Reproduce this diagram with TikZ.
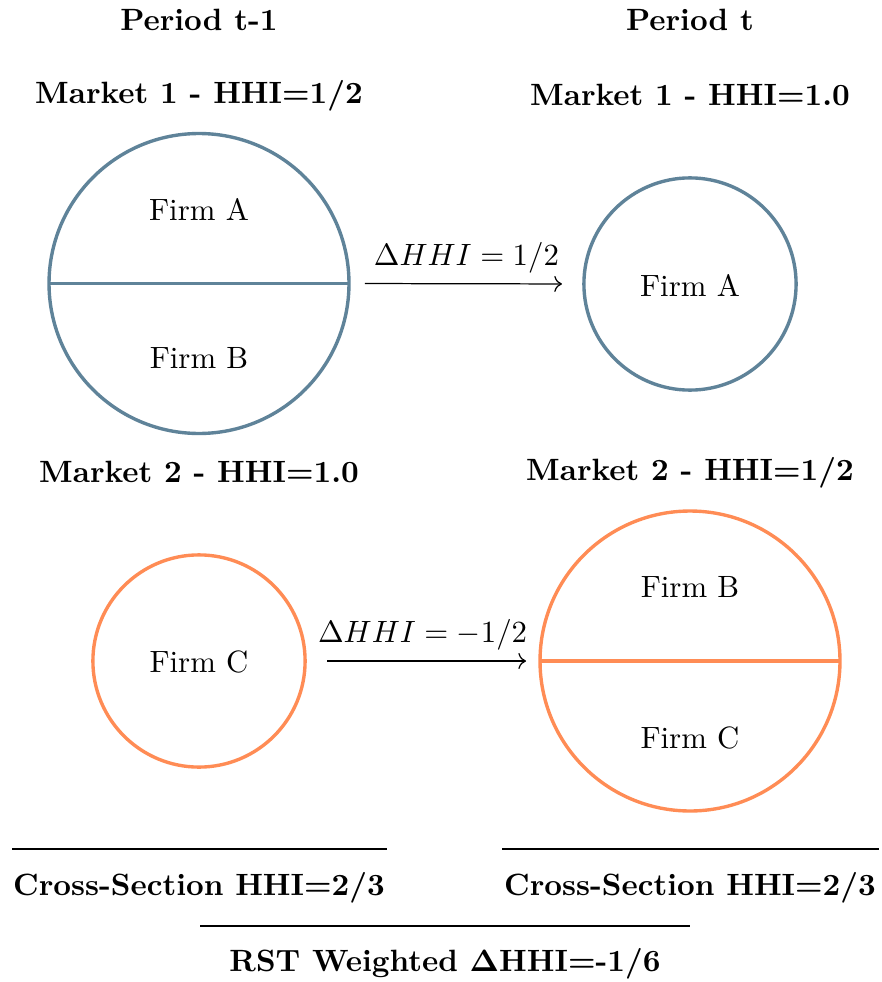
\documentclass[tikz,border=0pt]{standalone}
\usetikzlibrary{arrows.meta}
\definecolor{mblue}{HTML}{5F8399}
\definecolor{morange}{HTML}{FF8C55}
\begin{document}
\begin{tikzpicture}[x=0.3247pt,y=-0.3247pt,
  mkt/.style={circle, line width=1.1pt, inner sep=0pt, outer sep=0pt},
  bigmkt/.style={mkt, minimum size=97.4pt},
  smallmkt/.style={mkt, minimum size=68.9pt},
  ttl/.style={anchor=base, font=\bfseries, inner sep=0pt},
  firm/.style={inner sep=0pt},
  sep/.style={line width=0.5pt},
  chg/.style={->, line width=0.4pt},
  dlabel/.style={above, inner sep=3.33pt}]
\useasboundingbox (0,0) rectangle (881,982);

% circles
\node[bigmkt, draw=mblue] (m1a) at (199,283.5) {};
\node[smallmkt, draw=mblue] (m1b) at (690,284) {};
\node[smallmkt, draw=morange] (m2a) at (199,661) {};
\node[bigmkt, draw=morange] (m2b) at (690,661) {};
\draw[mblue, line width=1.1pt] (m1a.west) -- (m1a.east);
\draw[morange, line width=1.1pt] (m2b.west) -- (m2b.east);

% titles
\node[ttl] (pt1) at (199,31) {Period t-1};
\node[ttl] (pt) at (690,31) {Period t};
\node[ttl] (mk1a) at (199,104) {Market 1 - HHI=1/2};
\node[ttl] (mk1b) at (690,106) {Market 1 - HHI=1.0};
\node[ttl] (mk2a) at (199,482) {Market 2 - HHI=1.0};
\node[ttl] (mk2b) at (690,480) {Market 2 - HHI=1/2};

% firm labels
\node[firm] (fa1) at (199,209) {Firm A};
\node[firm] (fb1) at (199,358) {Firm B};
\node[firm] (fa2) at (690,285) {Firm A};
\node[firm] (fc1) at (199,662) {Firm C};
\node[firm] (fb2) at (690,587) {Firm B};
\node[firm] (fc2) at (690,738) {Firm C};

% change arrows
\draw[chg, shorten <=16*0.3247pt, shorten >=22*0.3247pt] (m1a.east) -- node[dlabel] {$\Delta HHI = 1/2$} (m1b.west);
\draw[chg, shorten <=22*0.3247pt, shorten >=14*0.3247pt] (m2a.east) -- node[dlabel] {$\Delta HHI = -1/2$} (m2b.west);

% summary rules and labels
\draw[sep] (12,849) -- (387,849);
\draw[sep] (502,849) -- (879,849);
\node[ttl] (csa) at (199,895) {Cross-Section HHI=2/3};
\node[ttl] (csb) at (690,895) {Cross-Section HHI=2/3};
\draw[sep] (200,926) -- (690,926);
\node[ttl] (rst) at (445,971) {RST Weighted {\boldmath$\Delta$}HHI=-1/6};
\end{tikzpicture}
\end{document}
